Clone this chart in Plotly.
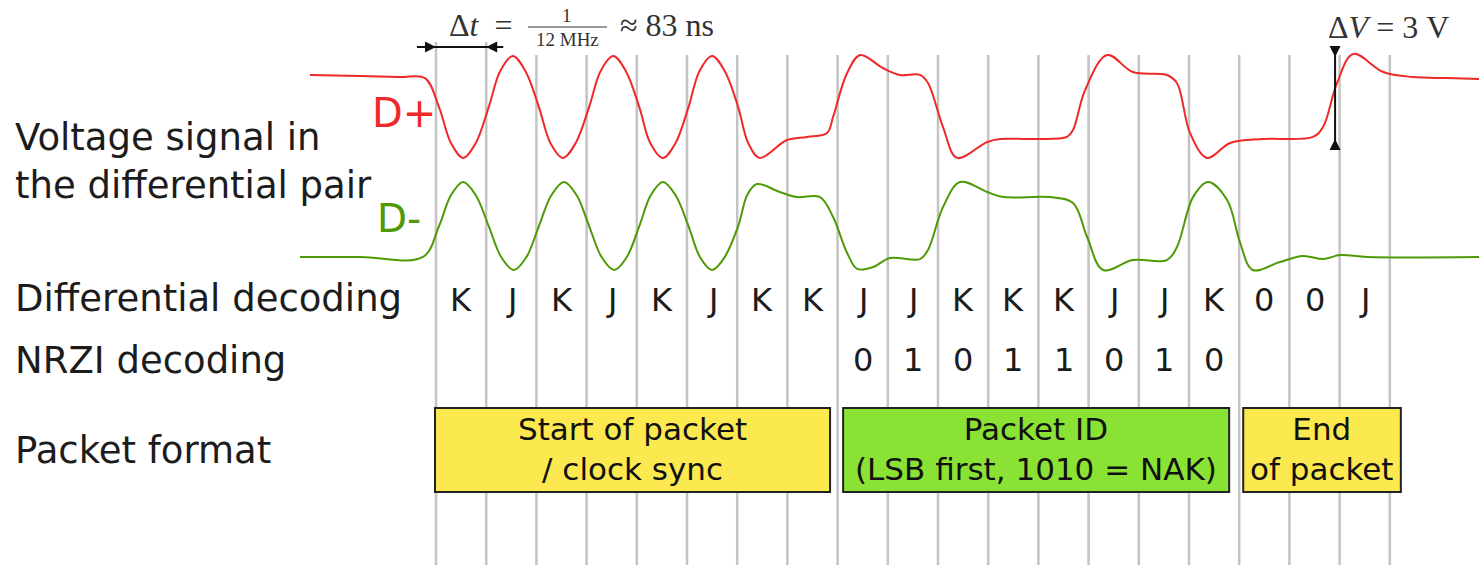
import plotly.graph_objects as go

# ---------------- data (time in bit periods, voltage in volts) ----------------
symbols = ["K", "J", "K", "J", "K", "J", "K", "K", "J", "J",
           "K", "K", "K", "J", "J", "K", "0", "0", "J"]
nrzi_bits = ["0", "1", "0", "1", "1", "0", "1", "0"]
nrzi_first_bit = 8

dplus_t = [-2.51, -1.51, -0.72, -0.22, 0.06, 0.30, 0.54, 0.79, 1.05, 1.28, 1.53,
           1.78, 2.05, 2.28, 2.53, 2.78, 3.05, 3.28, 3.53, 3.78, 4.05, 4.27, 4.52,
           4.77, 5.03, 5.25, 5.50, 5.75, 6.02, 6.22, 6.45,
           6.99, 7.39, 7.79, 7.91, 8.19,
           8.45, 8.90, 9.24, 9.64, 9.80, 10.10, 10.38, 10.98, 11.24, 11.89, 12.57,
           12.69, 12.93, 13.37, 13.88, 14.56, 14.76, 15.02, 15.36, 15.82, 16.47,
           17.47, 17.67, 17.95, 18.27, 18.87, 19.46, 20.14, 20.78]
dplus_v = [3.05, 3.00, 2.95, 2.90, 1.52, -0.20, -0.90, -0.20, 1.52, 3.24, 3.95,
           3.24, 1.52, -0.20, -0.90, -0.20, 1.52, 3.24, 3.95, 3.24, 1.52, -0.20, -0.90,
           -0.20, 1.52, 3.24, 3.95, 3.24, 1.52, -0.20, -0.90,
           -0.05, 0.10, 0.29, 1.05, 3.14,
           4.00, 3.38, 3.05, 3.05, 2.67, 0.57, -0.90, -0.14, 0.00, 0.00, 0.10,
           0.43, 2.33, 4.00, 3.19, 3.05, 2.67, 0.29, -0.90, -0.19, 0.00,
           0.10, 0.57, 2.67, 4.05, 3.19, 2.95, 2.90, 2.86]

dminus_t = [-2.71, -1.50, -0.26, 0.06, 0.30, 0.54, 0.79, 1.05, 1.30, 1.55, 1.80,
            2.05, 2.30, 2.55, 2.80, 3.05, 3.30, 3.55, 3.80, 4.05, 4.28, 4.52, 4.77,
            5.03, 5.26, 5.50, 5.75, 6.02, 6.20, 6.39,
            6.85, 7.19, 7.65, 7.91, 8.19, 8.39,
            8.71, 9.04, 9.64, 9.80, 10.10, 10.44, 10.98, 11.30, 12.23, 12.69, 12.97,
            13.29, 13.88, 14.56, 14.76, 15.08, 15.38, 15.76, 16.02, 16.27, 16.81,
            17.27, 17.67, 18.01, 18.55, 20.78]
dminus_v = [0.05, 0.05, 0.05, 1.52, 3.00, 3.62, 3.00, 1.52, 0.04, -0.57, 0.04,
            1.52, 3.00, 3.62, 3.00, 1.52, 0.04, -0.57, 0.04, 1.52, 3.00, 3.62, 3.00,
            1.52, 0.04, -0.57, 0.04, 1.52, 3.00, 3.52,
            3.14, 2.90, 2.90, 1.95, 0.24, -0.52,
            -0.43, 0.00, -0.05, 0.38, 2.43, 3.62, 3.14, 2.90, 2.90, 2.62, 1.00,
            -0.57, -0.10, -0.10, 0.52, 2.90, 3.62, 2.76, 0.71, -0.57, -0.19,
            0.10, -0.05, 0.14, 0.05, 0.05]

field_labels = ["Start of packet<br>/ clock sync",
                "Packet ID<br>(LSB first, 1010 = NAK)",
                "End<br>of packet"]
field_start = [-0.02, 8.11, 16.08]
field_end = [7.85, 15.80, 19.22]
field_colors = ["#fce94f", "#8ae234", "#fce94f"]

row_labels = ["Voltage signal in", "the differential pair", "Differential decoding",
              "NRZI decoding", "Packet format"]

# ---------------- layout helpers ----------------
W, H = 1479, 565
X0_PX, BIT_PX = 436.0, 50.2          # first bit boundary and bit width in pixels
Y0_PX, VOLT_PX = 139.0, 21.0         # D+ 0 V line and pixels per volt
DMINUS_OFFSET = 5.667                # display offset of the D- trace (V)
N_LINES = len(symbols) + 1
DV_T = 17.91                         # position of the ΔV marker (bit periods)


def yp(px):      # pixel row -> paper y
    return 1 - px / H


def yv(px):      # pixel row -> y-axis units
    return (Y0_PX - px) / VOLT_PX


SANS = "DejaVu Sans"
SERIF = "Liberation Serif"
TXT = "#1c1c1c"
NB = "\u00a0"

fig = go.Figure()

fig.add_trace(go.Scatter(x=dplus_t, y=dplus_v, mode="lines",
                         line=dict(color="#ef2929", width=2, shape="spline", smoothing=1.0),
                         hoverinfo="skip", showlegend=False))
fig.add_trace(go.Scatter(x=dminus_t, y=[v - DMINUS_OFFSET for v in dminus_v], mode="lines",
                         line=dict(color="#4e9a06", width=2, shape="spline", smoothing=1.0),
                         hoverinfo="skip", showlegend=False))

shapes = []
for i in range(N_LINES):
    top = 42 if i < 2 else 55
    shapes.append(dict(type="line", xref="x", yref="paper", x0=i, x1=i,
                       y0=yp(top), y1=0, layer="below",
                       line=dict(color="#c4c4c4", width=2.5)))
for s, e, c in zip(field_start, field_end, field_colors):
    shapes.append(dict(type="rect", xref="x", yref="paper", x0=s, x1=e,
                       y0=yp(492), y1=yp(408), layer="below",
                       fillcolor=c, line=dict(color="#222222", width=2)))
# Δt dimension line and ΔV dimension line
shapes.append(dict(type="line", xref="x", yref="y", x0=-0.38, x1=1.34,
                   y0=yv(47), y1=yv(47), line=dict(color="#111", width=2)))
shapes.append(dict(type="line", xref="x", yref="y", x0=DV_T, x1=DV_T,
                   y0=yv(48), y1=yv(148), line=dict(color="#111", width=2)))
# fraction bar
shapes.append(dict(type="line", xref="paper", yref="paper", x0=528 / W, x1=607 / W,
                   y0=yp(27), y1=yp(27), line=dict(color="#333", width=1)))

ann = []
left_rows_px = [137, 185, 298, 360, 450]
for txt, py in zip(row_labels, left_rows_px):
    ann.append(dict(text=txt, xref="paper", yref="paper", x=13 / W, y=yp(py),
                    xanchor="left", yanchor="middle", showarrow=False,
                    font=dict(family=SANS, size=37, color=TXT)))
ann.append(dict(text="D+", xref="x", yref="paper", x=-0.64, y=yp(113),
                xanchor="center", yanchor="middle", showarrow=False,
                font=dict(family=SANS, size=40, color="#ef2929")))
ann.append(dict(text="D-", xref="x", yref="paper", x=-0.74, y=yp(218),
                xanchor="center", yanchor="middle", showarrow=False,
                font=dict(family=SANS, size=39, color="#4e9a06")))
for i, s in enumerate(symbols):
    ann.append(dict(text=s, xref="x", yref="paper", x=i + 0.5, y=yp(300),
                    xanchor="center", yanchor="middle", showarrow=False,
                    font=dict(family=SANS, size=32, color=TXT)))
for i, b in enumerate(nrzi_bits):
    ann.append(dict(text=b, xref="x", yref="paper", x=nrzi_first_bit + i + 0.5, y=yp(360),
                    xanchor="center", yanchor="middle", showarrow=False,
                    font=dict(family=SANS, size=32, color=TXT)))
for txt, s, e in zip(field_labels, field_start, field_end):
    ann.append(dict(text=txt, xref="x", yref="paper", x=(s + e) / 2, y=yp(449),
                    xanchor="center", yanchor="middle", showarrow=False,
                    font=dict(family=SANS, size=31, color="#111")))

# dimension arrowheads (pointing inward)
arrow_kw = dict(showarrow=True, arrowhead=2, arrowsize=1.1, arrowwidth=2,
                arrowcolor="#111", text="", xref="x", yref="y", axref="x", ayref="y")
ann.append(dict(x=0, y=yv(47), ax=-0.38, ay=yv(47), **arrow_kw))
ann.append(dict(x=1, y=yv(47), ax=1.34, ay=yv(47), **arrow_kw))
ann.append(dict(x=DV_T, y=yv(57), ax=DV_T, ay=yv(48), **arrow_kw))
ann.append(dict(x=DV_T, y=yv(139), ax=DV_T, ay=yv(148), **arrow_kw))

# math labels
ann.append(dict(text="Δ<i>t</i>" + NB * 2 + "=", xref="paper", yref="paper", x=515 / W, y=yp(25),
                xanchor="right", yanchor="middle", showarrow=False,
                font=dict(family=SERIF, size=32, color="#333")))
ann.append(dict(text="1", xref="paper", yref="paper", x=567 / W, y=yp(15),
                xanchor="center", yanchor="middle", showarrow=False,
                font=dict(family=SERIF, size=19, color="#333")))
ann.append(dict(text="12" + NB + "MHz", xref="paper", yref="paper", x=567 / W, y=yp(39),
                xanchor="center", yanchor="middle", showarrow=False,
                font=dict(family=SERIF, size=19, color="#333")))
ann.append(dict(text="≈" + NB + "83" + NB + "ns", xref="paper", yref="paper", x=618 / W, y=yp(25),
                xanchor="left", yanchor="middle", showarrow=False,
                font=dict(family=SERIF, size=32, color="#333")))
ann.append(dict(text="Δ<i>V</i>" + NB + "=" + NB + "3" + NB + "V", xref="paper", yref="paper",
                x=1388 / W, y=yp(27),
                xanchor="center", yanchor="middle", showarrow=False,
                font=dict(family=SERIF, size=32, color="#333")))

fig.update_layout(
    width=W, height=H, margin=dict(l=0, r=0, t=0, b=0),
    paper_bgcolor="white", plot_bgcolor="white",
    xaxis=dict(range=[-X0_PX / BIT_PX, (W - X0_PX) / BIT_PX], visible=False, fixedrange=True),
    yaxis=dict(range=[(Y0_PX - H) / VOLT_PX, Y0_PX / VOLT_PX], visible=False, fixedrange=True),
    shapes=shapes, annotations=ann, showlegend=False,
)

fig.write_html("out.html", config={"displayModeBar": False},
               post_script="document.body.style.margin='0px';document.body.style.overflow='hidden';")
